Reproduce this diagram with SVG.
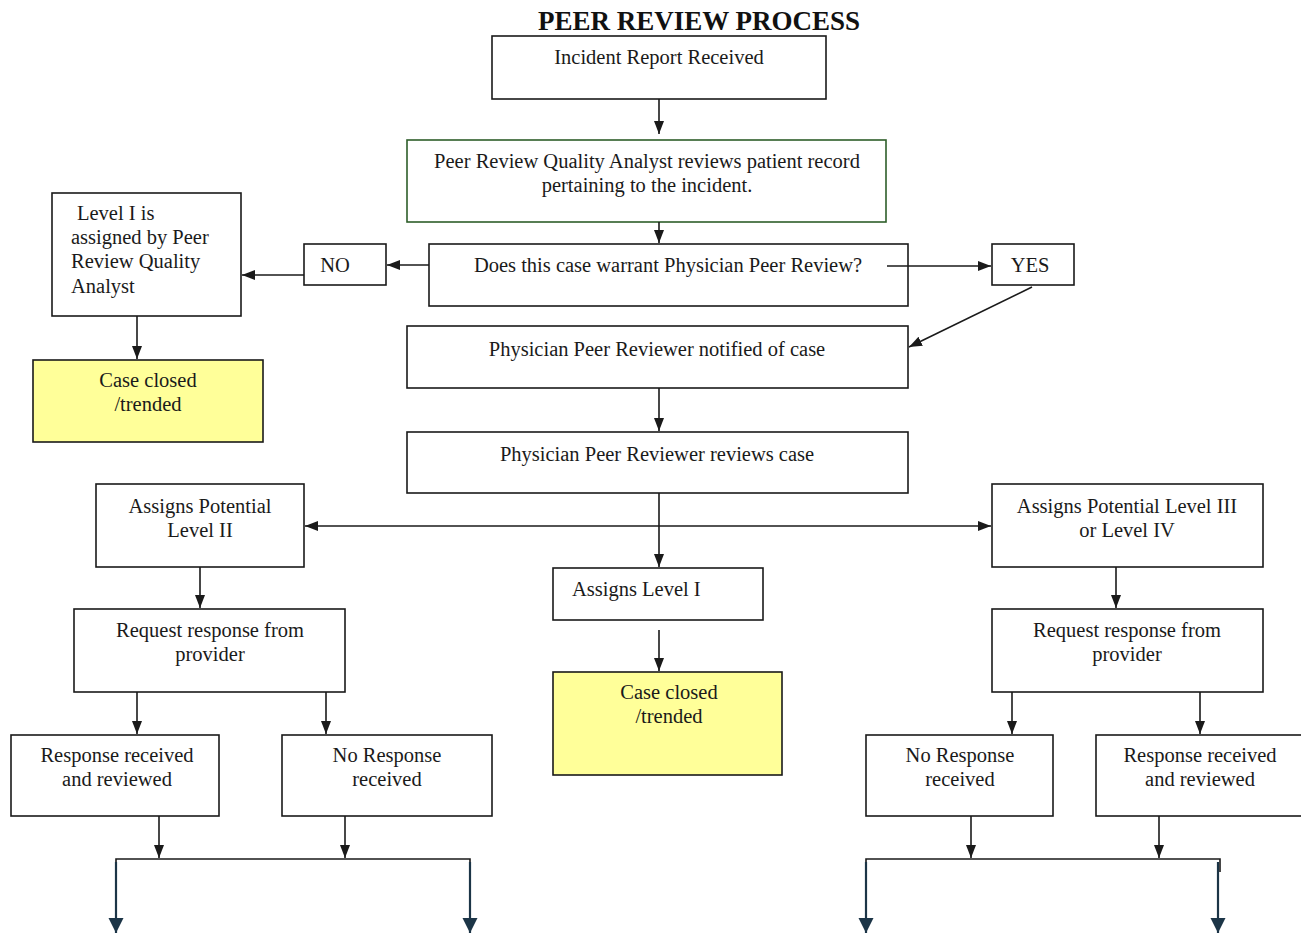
<svg xmlns="http://www.w3.org/2000/svg" width="1301" height="936" viewBox="0 0 1301 936">
  <style>
    .box { fill: #ffffff; stroke: #1a1a1a; stroke-width: 1.6; }
    .green { fill: #ffffff; stroke: #2e5e2a; stroke-width: 1.6; }
    .closed { fill: #ffff99; stroke: #1a1a1a; stroke-width: 1.6; }
    .t { font-family: "Liberation Serif", "Times New Roman", serif; font-size: 20.5px; fill: #1a1a1a; }
    .c { text-anchor: middle; }
    .title { font-family: "Liberation Serif", "Times New Roman", serif; font-size: 27px; font-weight: bold; fill: #111111; text-anchor: middle; }
    .ln { fill: none; stroke: #1a1a1a; stroke-width: 1.6; }
    .nv { fill: none; stroke: #1c3547; stroke-width: 2.2; }
  </style>
  <defs>
    <marker id="ah" markerUnits="userSpaceOnUse" markerWidth="14" markerHeight="14" viewBox="0 0 14 14" refX="13" refY="7" orient="auto-start-reverse">
      <path d="M0,2 L13,7 L0,12 Z" fill="#1a1a1a"/>
    </marker>
    <marker id="nh" markerUnits="userSpaceOnUse" markerWidth="16" markerHeight="16" viewBox="0 0 16 16" refX="15" refY="8" orient="auto">
      <path d="M0,0.5 L15,8 L0,15.5 Z" fill="#1c3547"/>
    </marker>
  </defs>

  <text class="title" x="699" y="30">PEER REVIEW PROCESS</text>

  <g id="incident">
    <rect class="box" x="492" y="36" width="334" height="63"/>
    <text class="t c" x="659" y="64">Incident Report Received</text>
  </g>
  <g id="analyst-review">
    <rect class="green" x="407" y="140" width="479" height="82"/>
    <text class="t c" x="647" y="168">Peer Review Quality Analyst reviews patient record</text>
    <text class="t c" x="647" y="192">pertaining to the incident.</text>
  </g>
  <g id="decision">
    <rect class="box" x="429" y="244" width="479" height="62"/>
    <text class="t c" x="668" y="272">Does this case warrant Physician Peer Review?</text>
  </g>
  <g id="no">
    <rect class="box" x="304" y="244" width="82" height="41"/>
    <text class="t c" x="335" y="272">NO</text>
  </g>
  <g id="yes">
    <rect class="box" x="992" y="244" width="82" height="41"/>
    <text class="t c" x="1030" y="272">YES</text>
  </g>
  <g id="level1-analyst">
    <rect class="box" x="52" y="193" width="189" height="123"/>
    <text class="t" x="77" y="220">Level I is</text>
    <text class="t" x="71" y="244">assigned by Peer</text>
    <text class="t" x="71" y="268">Review Quality</text>
    <text class="t" x="71" y="293">Analyst</text>
  </g>
  <g id="closed-left">
    <rect class="closed" x="33" y="360" width="230" height="82"/>
    <text class="t c" x="148" y="387">Case closed</text>
    <text class="t c" x="148" y="411">/trended</text>
  </g>
  <g id="notified">
    <rect class="box" x="407" y="326" width="501" height="62"/>
    <text class="t c" x="657" y="356">Physician Peer Reviewer notified of case</text>
  </g>
  <g id="reviews">
    <rect class="box" x="407" y="432" width="501" height="61"/>
    <text class="t c" x="657" y="461">Physician Peer Reviewer reviews case</text>
  </g>
  <g id="potential-l2">
    <rect class="box" x="96" y="484" width="208" height="83"/>
    <text class="t c" x="200" y="513">Assigns Potential</text>
    <text class="t c" x="200" y="537">Level II</text>
  </g>
  <g id="potential-l34">
    <rect class="box" x="992" y="484" width="271" height="83"/>
    <text class="t c" x="1127" y="513">Assigns Potential Level III</text>
    <text class="t c" x="1127" y="537">or Level IV</text>
  </g>
  <g id="assign-l1">
    <rect class="box" x="553" y="568" width="210" height="52"/>
    <text class="t" x="572" y="596">Assigns Level I</text>
  </g>
  <g id="closed-center">
    <rect class="closed" x="553" y="672" width="229" height="103"/>
    <text class="t c" x="669" y="699">Case closed</text>
    <text class="t c" x="669" y="723">/trended</text>
  </g>
  <g id="request-left">
    <rect class="box" x="74" y="609" width="271" height="83"/>
    <text class="t c" x="210" y="637">Request response from</text>
    <text class="t c" x="210" y="661">provider</text>
  </g>
  <g id="received-left">
    <rect class="box" x="11" y="735" width="208" height="81"/>
    <text class="t c" x="117" y="762">Response received</text>
    <text class="t c" x="117" y="786">and reviewed</text>
  </g>
  <g id="noresp-left">
    <rect class="box" x="282" y="735" width="210" height="81"/>
    <text class="t c" x="387" y="762">No Response</text>
    <text class="t c" x="387" y="786">received</text>
  </g>
  <g id="request-right">
    <rect class="box" x="992" y="609" width="271" height="83"/>
    <text class="t c" x="1127" y="637">Request response from</text>
    <text class="t c" x="1127" y="661">provider</text>
  </g>
  <g id="noresp-right">
    <rect class="box" x="866" y="735" width="187" height="81"/>
    <text class="t c" x="960" y="762">No Response</text>
    <text class="t c" x="960" y="786">received</text>
  </g>
  <g id="received-right">
    <rect class="box" x="1096" y="735" width="210" height="81"/>
    <text class="t c" x="1200" y="762">Response received</text>
    <text class="t c" x="1200" y="786">and reviewed</text>
  </g>

  <g id="connectors">
    <line class="ln" x1="659" y1="99" x2="659" y2="134" marker-end="url(#ah)"/>
    <line class="ln" x1="659" y1="222" x2="659" y2="243" marker-end="url(#ah)"/>
    <line class="ln" x1="429" y1="265" x2="387" y2="265" marker-end="url(#ah)"/>
    <line class="ln" x1="304" y1="275" x2="242" y2="275" marker-end="url(#ah)"/>
    <line class="ln" x1="137" y1="316" x2="137" y2="359" marker-end="url(#ah)"/>
    <line class="ln" x1="887" y1="266" x2="991" y2="266" marker-end="url(#ah)"/>
    <line class="ln" x1="1032" y1="287" x2="909" y2="347" marker-end="url(#ah)"/>
    <line class="ln" x1="659" y1="388" x2="659" y2="431" marker-end="url(#ah)"/>
    <line class="ln" x1="659" y1="493" x2="659" y2="567" marker-end="url(#ah)"/>
    <line class="ln" x1="305" y1="526" x2="991" y2="526" marker-start="url(#ah)" marker-end="url(#ah)"/>
    <line class="ln" x1="659" y1="630" x2="659" y2="671" marker-end="url(#ah)"/>
    <line class="ln" x1="200" y1="567" x2="200" y2="608" marker-end="url(#ah)"/>
    <line class="ln" x1="137" y1="692" x2="137" y2="734" marker-end="url(#ah)"/>
    <line class="ln" x1="326" y1="692" x2="326" y2="734" marker-end="url(#ah)"/>
    <line class="ln" x1="159" y1="816" x2="159" y2="858" marker-end="url(#ah)"/>
    <line class="ln" x1="345" y1="816" x2="345" y2="858" marker-end="url(#ah)"/>
    <polyline class="ln" points="116,872 116,859 470,859 470,872"/>
    <line class="nv" x1="116" y1="862" x2="116" y2="933" marker-end="url(#nh)"/>
    <line class="nv" x1="470" y1="862" x2="470" y2="933" marker-end="url(#nh)"/>
    <line class="ln" x1="1116" y1="567" x2="1116" y2="608" marker-end="url(#ah)"/>
    <line class="ln" x1="1012" y1="692" x2="1012" y2="734" marker-end="url(#ah)"/>
    <line class="ln" x1="1200" y1="692" x2="1200" y2="734" marker-end="url(#ah)"/>
    <line class="ln" x1="971" y1="816" x2="971" y2="858" marker-end="url(#ah)"/>
    <line class="ln" x1="1159" y1="816" x2="1159" y2="858" marker-end="url(#ah)"/>
    <polyline class="ln" points="866,872 866,859 1220,859 1220,872"/>
    <line class="nv" x1="866" y1="862" x2="866" y2="933" marker-end="url(#nh)"/>
    <line class="nv" x1="1218" y1="862" x2="1218" y2="933" marker-end="url(#nh)"/>
  </g>
</svg>
